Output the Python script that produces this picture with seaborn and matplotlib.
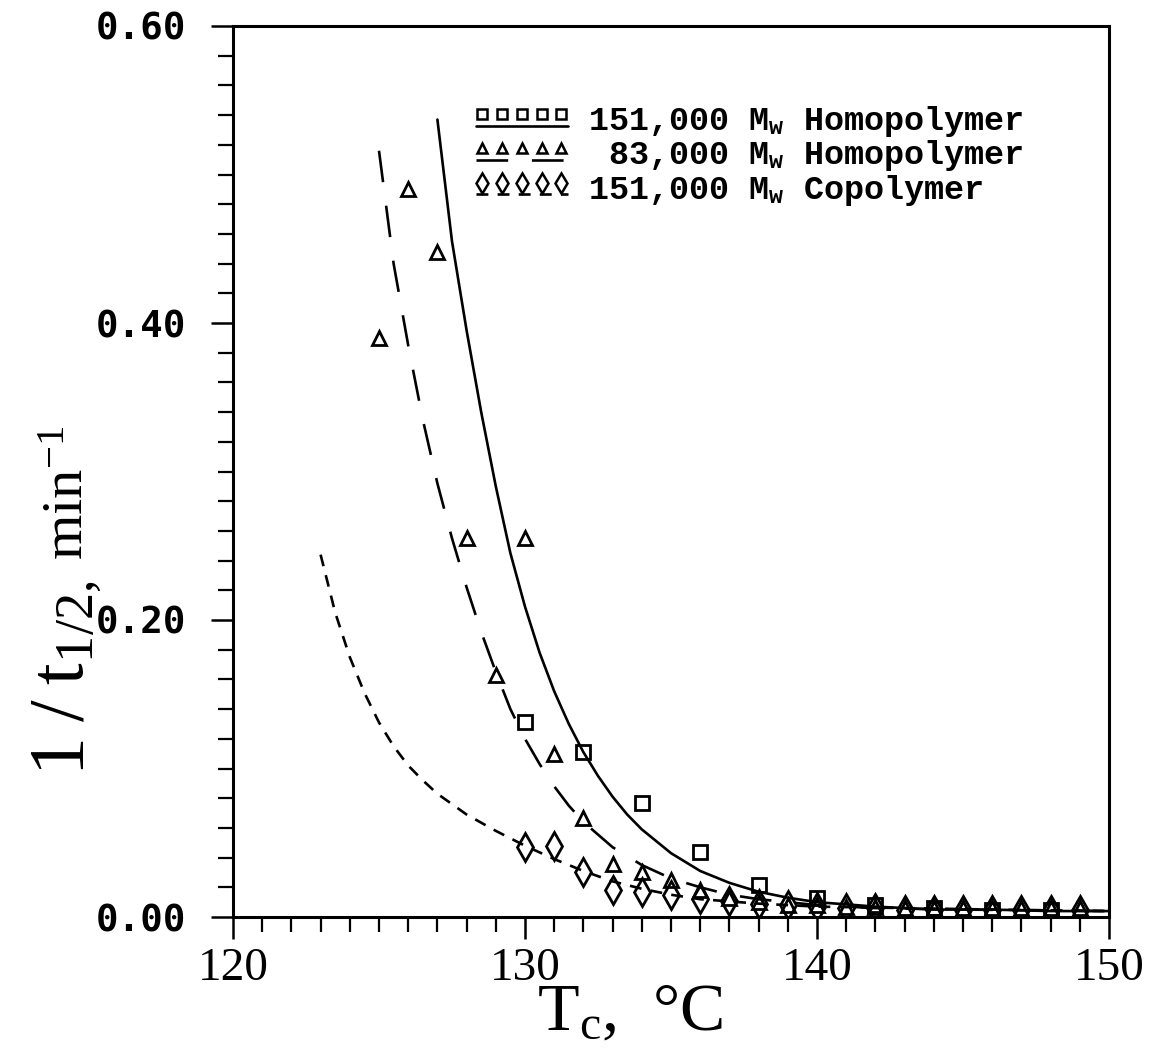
import numpy as np
import matplotlib
matplotlib.use("Agg")
import matplotlib.pyplot as plt
import seaborn as sns
from matplotlib.lines import Line2D
from matplotlib.legend_handler import HandlerBase
from matplotlib.ticker import MultipleLocator, FixedLocator, FixedFormatter
from matplotlib.font_manager import FontProperties

# ---------------- data ----------------
# 151,000 Mw homopolymer (squares)
sq_T = [130, 132, 134, 136, 138, 140, 142, 144, 146, 148]
sq_y = [0.131, 0.111, 0.077, 0.044, 0.0215, 0.013, 0.008, 0.006, 0.005, 0.005]

# 83,000 Mw homopolymer (triangles)
tri_T = [125, 126, 127, 128, 129, 130, 131, 132, 133, 134, 135, 136, 137,
         138, 139, 140, 141, 142, 143, 144, 145, 146, 147, 148, 149]
tri_y = [0.390, 0.490, 0.448, 0.255, 0.163, 0.255, 0.110, 0.067, 0.036,
         0.030, 0.025, 0.018, 0.013, 0.010, 0.008, 0.008, 0.007, 0.007,
         0.006, 0.006, 0.006, 0.006, 0.006, 0.006, 0.006]

# 151,000 Mw copolymer (diamonds)
dia_T = [130, 131, 132, 133, 134, 135, 136, 137, 138, 139, 140, 141, 142,
         143, 144, 145, 146, 147, 148, 149]
dia_y = [0.047, 0.048, 0.030, 0.018, 0.017, 0.015, 0.012, 0.011, 0.009,
         0.008, 0.007, 0.006, 0.006, 0.005, 0.005, 0.005, 0.005, 0.005,
         0.005, 0.005]

# fitted curves
fit_hp151_T = [127.0, 127.5, 128.0, 128.5, 129.0, 129.5, 130.0, 130.5, 131.0,
               131.5, 132.0, 132.5, 133.0, 133.5, 134.0, 135.0, 136.0, 137.0,
               138.0, 139.0, 140.0, 142.0, 144.0, 146.0, 148.0, 150.0]
fit_hp151_y = [0.537, 0.455, 0.395, 0.340, 0.290, 0.245, 0.209, 0.178, 0.152,
               0.130, 0.111, 0.095, 0.081, 0.069, 0.059, 0.043, 0.031, 0.023,
               0.017, 0.013, 0.010, 0.007, 0.005, 0.005, 0.004, 0.004]

fit_hp83_T = [125.0, 125.5, 126.0, 126.5, 127.0, 127.5, 128.0, 128.5, 129.0,
              129.5, 130.0, 130.5, 131.0, 131.5, 132.0, 133.0, 134.0, 135.0,
              136.0, 137.0, 138.0, 140.0, 142.0, 145.0, 150.0]
fit_hp83_y = [0.516, 0.440, 0.385, 0.335, 0.292, 0.255, 0.222, 0.192, 0.165,
              0.140, 0.120, 0.103, 0.088, 0.075, 0.064, 0.047, 0.035, 0.026,
              0.020, 0.015, 0.012, 0.008, 0.006, 0.005, 0.004]

fit_co151_T = [123.0, 123.5, 124.0, 124.5, 125.0, 125.5, 126.0, 126.5, 127.0,
               128.0, 129.0, 130.0, 131.0, 132.0, 133.0, 134.0, 135.0, 136.0,
               138.0, 140.0, 143.0, 146.0, 150.0]
fit_co151_y = [0.244, 0.205, 0.175, 0.151, 0.131, 0.115, 0.102, 0.092, 0.083,
               0.069, 0.058, 0.048, 0.039, 0.031, 0.024, 0.019, 0.015, 0.012,
               0.009, 0.007, 0.006, 0.005, 0.004]

legend_labels = ["151,000 M$_\\mathbf{w}$ Homopolymer",
                 " 83,000 M$_\\mathbf{w}$ Homopolymer",
                 "151,000 M$_\\mathbf{w}$ Copolymer"]

x_ticks = [120, 130, 140, 150]
x_ticklabels = ["120", "130", "140", "150"]
y_ticks = [0.0, 0.2, 0.4, 0.6]
y_ticklabels = ["0.00", "0.20", "0.40", "0.60"]

# ---------------- style ----------------
sns.set_theme(style="white")
plt.rcParams.update({
    "font.family": ["Liberation Serif", "DejaVu Serif"],
    "mathtext.fontset": "custom",
    "mathtext.rm": "Liberation Serif",
    "mathtext.it": "Liberation Serif:italic",
    "mathtext.bf": "Liberation Mono:bold",
    "axes.edgecolor": "black",
    "axes.linewidth": 2.2,
})

LW = 1.9
W, H = 1154, 1058
fig = plt.figure(figsize=(W / 100, H / 100), dpi=100)
fig.patch.set_facecolor("white")
ax = fig.add_axes([233 / W, 1 - 917 / H, (1109 - 233) / W, (917 - 26) / H])
ax.set_facecolor("white")

# curves
sns.lineplot(x=fit_hp151_T, y=fit_hp151_y, ax=ax, color="black", lw=LW,
             linestyle="-", errorbar=None)
sns.lineplot(x=fit_hp83_T, y=fit_hp83_y, ax=ax, color="black", lw=LW,
             linestyle=(0, (12, 9)), errorbar=None)
sns.lineplot(x=fit_co151_T, y=fit_co151_y, ax=ax, color="black", lw=LW,
             linestyle=(0, (4.5, 3.5)), errorbar=None)

# points
common = dict(ax=ax, color="black", linestyle="none", mfc="none", mec="black",
              mew=2.0, errorbar=None)
sns.lineplot(x=sq_T, y=sq_y, marker="s", ms=10, **common)
sns.lineplot(x=tri_T, y=tri_y, marker="^", ms=10, **common)
sns.lineplot(x=dia_T, y=dia_y, marker="d", ms=14, **common)

# axes
ax.set_xlim(120, 150)
ax.set_ylim(0, 0.6)
ax.xaxis.set_major_locator(FixedLocator(x_ticks))
ax.xaxis.set_major_formatter(FixedFormatter(x_ticklabels))
ax.yaxis.set_major_locator(FixedLocator(y_ticks))
ax.yaxis.set_major_formatter(FixedFormatter(y_ticklabels))
ax.xaxis.set_minor_locator(MultipleLocator(1))
ax.yaxis.set_minor_locator(MultipleLocator(0.02))
ax.tick_params(which="major", direction="out", length=16, width=1.8,
               color="black", left=True, bottom=True, top=False, right=False)
ax.tick_params(which="minor", direction="out", length=11, width=1.6,
               color="black", left=True, bottom=True, top=False, right=False)
ax.tick_params(axis="y", which="major", pad=18)
ax.tick_params(axis="x", which="major", pad=6)
for lab in ax.get_yticklabels():
    lab.set_fontfamily("DejaVu Sans Mono")
    lab.set_fontweight("bold")
    lab.set_fontsize(27)
    lab.set_color("black")
for lab in ax.get_xticklabels():
    lab.set_fontfamily("Liberation Serif")
    lab.set_fontsize(34)
    lab.set_color("black")
for s in ax.spines.values():
    s.set_color("black")
    s.set_linewidth(2.2)
ax.set_xlabel("")
ax.set_ylabel("")

# axis labels
fig.text(630 / W, 1 - 1030 / H, "T$_\\mathrm{c}$,  °C", fontsize=49,
         family="Liberation Serif", ha="center", va="baseline", color="black")
fig.text(83 / W, 1 - 776 / H, "$1\\;/\\;\\mathrm{t}_{1/2,}$", fontsize=56,
         rotation=90, rotation_mode="anchor", ha="left", va="baseline",
         color="black")
fig.text(83 / W, 1 - 560 / H, "min$^{-1}$", fontsize=42,
         family="Liberation Serif", rotation=90, rotation_mode="anchor",
         ha="left", va="baseline", color="black")


# legend with markers above an underline sample
class UnderlineHandler(HandlerBase):
    def create_artists(self, legend, orig_handle, xdescent, ydescent,
                       width, height, fontsize, trans):
        x0, x1 = -xdescent, -xdescent + width
        yc = -ydescent + height / 2
        xm = np.linspace(x0 + 0.07 * width, x1 - 0.07 * width, 5)
        mk = Line2D(xm, np.full(5, yc + 0.18 * height), linestyle="none",
                    marker=orig_handle.get_marker(),
                    markersize=orig_handle.get_markersize(),
                    mfc="none", mec="black", mew=1.8)
        ln = Line2D([x0, x1], [yc - 0.32 * height] * 2)
        ln.update_from(orig_handle)
        ln.set_marker("None")
        ln.set_data([x0, x1], [yc - 0.32 * height] * 2)
        mk.set_transform(trans)
        ln.set_transform(trans)
        return [ln, mk]


handles = [
    Line2D([], [], color="black", lw=LW, linestyle="-", marker="s", ms=7.5),
    Line2D([], [], color="black", lw=LW, linestyle=(0, (12, 9)), marker="^", ms=7.5),
    Line2D([], [], color="black", lw=LW, linestyle=(0, (4.5, 3.5)), marker="d", ms=10),
]
leg = ax.legend(handles, legend_labels,
                handler_map={Line2D: UnderlineHandler()},
                loc="upper left", bbox_to_anchor=(476 / W, 1 - 104 / H),
                bbox_transform=fig.transFigure, frameon=False,
                prop=FontProperties(family="Liberation Mono", weight="bold", size=24),
                handlelength=2.75, handletextpad=0.6, labelspacing=-0.02,
                borderpad=0, borderaxespad=0)
for t in leg.get_texts():
    t.set_color("black")

fig.savefig("out.png", dpi=100, facecolor="white")
